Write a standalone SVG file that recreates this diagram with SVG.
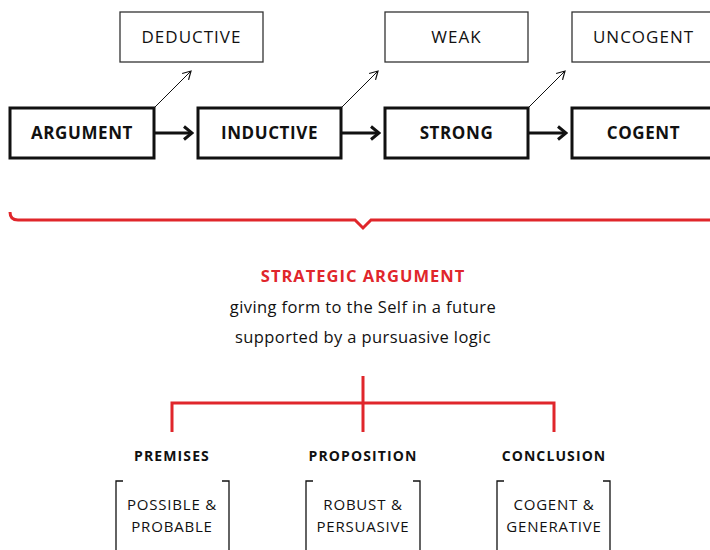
<svg xmlns="http://www.w3.org/2000/svg" width="710" height="550" viewBox="0 0 710 550">
<defs>
<style>
.main rect{fill:#fff;stroke:#111;stroke-width:3}
.alt rect{fill:#fff;stroke:#333;stroke-width:1.3}
.t{font-family:"Open Sans","Liberation Sans",sans-serif;text-anchor:middle;fill:#111}
.mt{font-size:17px;font-weight:700;letter-spacing:0.6px}
.at{font-size:17px;font-weight:400;letter-spacing:1px}
.hd{font-size:14px;font-weight:700;letter-spacing:1.1px}
.sub{font-size:15px;letter-spacing:0.8px}
.body{font-size:16.5px;letter-spacing:0.4px}
.red{stroke:#e0262b;stroke-width:3;fill:none}
.brk{stroke:#111;stroke-width:1.3;fill:none}
</style>
<marker id="ah" viewBox="0 0 10 10" refX="9" refY="5" markerWidth="10" markerHeight="10" markerUnits="userSpaceOnUse" orient="auto">
<path d="M1 0.5 L9 5 L1 9.5" fill="none" stroke="#111" stroke-width="1.2"/>
</marker>
<marker id="ahb" viewBox="0 0 16 16" refX="14" refY="8" markerWidth="16" markerHeight="16" markerUnits="userSpaceOnUse" orient="auto">
<path d="M6 1.5 L14 8 L6 14.5" fill="none" stroke="#111" stroke-width="3"/>
</marker>
</defs>
<rect width="710" height="550" fill="#fff"/>

<g id="connectors">
<line x1="154" y1="133" x2="192" y2="133" stroke="#111" stroke-width="3" marker-end="url(#ahb)"/>
<line x1="341" y1="133" x2="379" y2="133" stroke="#111" stroke-width="3" marker-end="url(#ahb)"/>
<line x1="528" y1="133" x2="566" y2="133" stroke="#111" stroke-width="3" marker-end="url(#ahb)"/>
<line x1="154" y1="108" x2="191" y2="71" stroke="#111" stroke-width="1" marker-end="url(#ah)"/>
<line x1="341" y1="108" x2="378" y2="71" stroke="#111" stroke-width="1" marker-end="url(#ah)"/>
<line x1="528" y1="108" x2="565" y2="71" stroke="#111" stroke-width="1" marker-end="url(#ah)"/>
<path class="red" d="M10 212 Q10 220 18 220 L355 220 L363 228 L371 220 L712 220"/>
<path class="red" d="M363 376 V432 M172 432 V403 H554 V432"/>
</g>

<g id="n-argument" class="main"><rect x="10" y="108" width="144" height="50"/><text class="t mt" x="82" y="139">ARGUMENT</text></g>
<g id="n-inductive" class="main"><rect x="198" y="108" width="143" height="50"/><text class="t mt" x="269.5" y="139">INDUCTIVE</text></g>
<g id="n-strong" class="main"><rect x="385" y="108" width="143" height="50"/><text class="t mt" x="456.5" y="139">STRONG</text></g>
<g id="n-cogent" class="main"><rect x="572" y="108" width="143" height="50"/><text class="t mt" x="643.5" y="139">COGENT</text></g>

<g id="n-deductive" class="alt"><rect x="120" y="12" width="143" height="50"/><text class="t at" x="191.5" y="43">DEDUCTIVE</text></g>
<g id="n-weak" class="alt"><rect x="385" y="12" width="143" height="50"/><text class="t at" x="456.5" y="43">WEAK</text></g>
<g id="n-uncogent" class="alt"><rect x="572" y="12" width="143" height="50"/><text class="t at" x="643.5" y="43">UNCOGENT</text></g>

<g id="n-strategic">
<text class="t" x="363" y="282" style="font-size:16.5px;font-weight:700;letter-spacing:1px;fill:#e0262b">STRATEGIC ARGUMENT</text>
<text class="t body" x="363" y="313">giving form to the Self in a future</text>
<text class="t body" x="363" y="343">supported by a pursuasive logic</text>
</g>

<g id="n-premises">
<text class="t hd" x="172" y="461">PREMISES</text>
<path class="brk" d="M123 481 H116 V552 M222 481 H229 V552"/>
<text class="t sub" x="172" y="510">POSSIBLE &amp;</text>
<text class="t sub" x="172" y="532">PROBABLE</text>
</g>
<g id="n-proposition">
<text class="t hd" x="363" y="461">PROPOSITION</text>
<path class="brk" d="M313 481 H306 V552 M413 481 H420 V552"/>
<text class="t sub" x="363" y="510">ROBUST &amp;</text>
<text class="t sub" x="363" y="532">PERSUASIVE</text>
</g>
<g id="n-conclusion">
<text class="t hd" x="554" y="461">CONCLUSION</text>
<path class="brk" d="M504 481 H497 V552 M603 481 H610 V552"/>
<text class="t sub" x="554" y="510">COGENT &amp;</text>
<text class="t sub" x="554" y="532">GENERATIVE</text>
</g>
</svg>
